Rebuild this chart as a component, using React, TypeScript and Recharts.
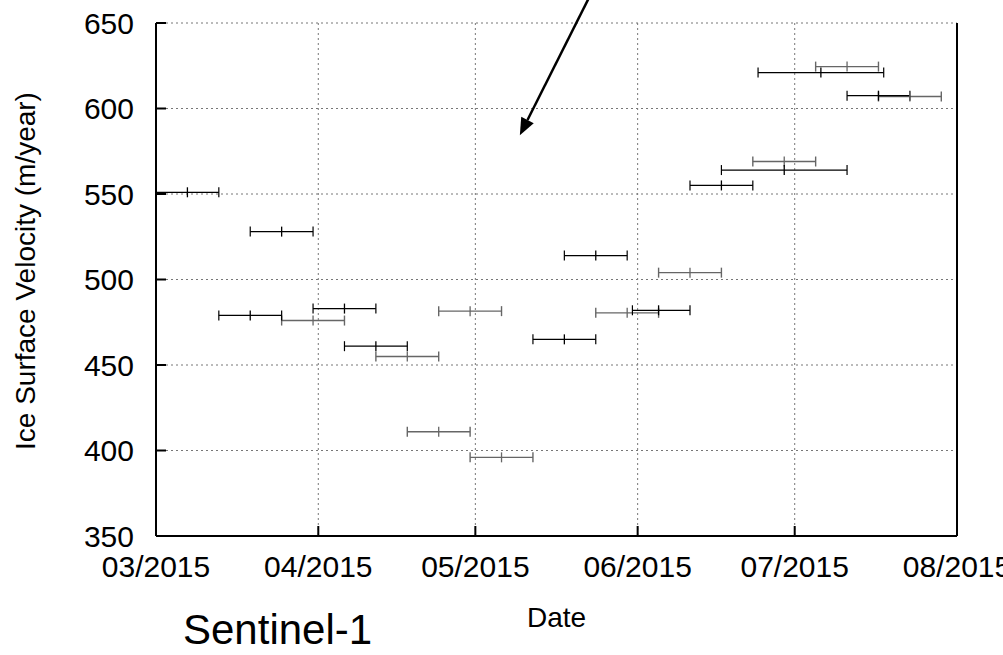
import { ScatterChart, Scatter, XAxis, YAxis, CartesianGrid, ErrorBar, ReferenceLine } from "recharts";

// days counted from 2015-03-01
const xTicks = [0, 31, 61, 92, 122, 153];
const xTickLabels = ["03/2015", "04/2015", "05/2015", "06/2015", "07/2015", "08/2015"];
const yTicks = [350, 400, 450, 500, 550, 600, 650];

// black pairs
const blackStart = [0, 12, 18, 30, 36, 72, 78, 91, 102, 108, 115, 132];
const blackCenter = [6, 18, 24, 36, 42, 78, 84, 96, 108, 120, 127, 138];
const blackEnd = [12, 24, 30, 42, 48, 84, 90, 102, 114, 132, 139, 144];
const blackVelocity = [551, 479, 528, 483, 461, 465, 514, 482, 555, 564, 621, 607.5];

// grey pairs
const greyStart = [24, 42, 48, 54, 60, 84, 96, 114, 126, 138];
const greyCenter = [30, 48, 54, 60, 66, 90, 102, 120, 132, 144];
const greyEnd = [36, 54, 60, 66, 72, 96, 108, 126, 138, 150];
const greyVelocity = [476, 455, 411, 481.5, 396, 480.5, 504, 569, 624.5, 607];

// arrow annotation (day, velocity)
const arrowFrom = { x: 83.4, y: 669 };
const arrowTo = { x: 69.5, y: 584.4 };

const build = (start: number[], center: number[], end: number[], vel: number[]) =>
  center.map((c, i) => ({ x: c, y: vel[i], err: [c - start[i], end[i] - c] }));

const blackData = build(blackStart, blackCenter, blackEnd, blackVelocity);
const greyData = build(greyStart, greyCenter, greyEnd, greyVelocity);

const font = "'Liberation Sans', Arial, Helvetica, sans-serif";
const tickFont = 30;

const BottomTick = (props: any) => {
  const { x, y, payload } = props;
  const i = xTicks.indexOf(payload.value);
  return (
    <g>
      <line x1={x} y1={y} x2={x} y2={y - 10} stroke="#000" strokeWidth={2} />
      <text x={x} y={y + 41} textAnchor="middle" fontSize={tickFont} fontFamily={font} fill="#000">
        {xTickLabels[i]}
      </text>
    </g>
  );
};

const TopTick = (props: any) => {
  const { x, y } = props;
  return <line x1={x} y1={y} x2={x} y2={y + 10} stroke="#000" strokeWidth={2} />;
};

const LeftTick = (props: any) => {
  const { x, y, payload } = props;
  return (
    <g>
      <line x1={x} y1={y} x2={x + 10} y2={y} stroke="#000" strokeWidth={2} />
      <text x={x - 22} y={y} dy="0.36em" textAnchor="end" fontSize={tickFont} fontFamily={font} fill="#000">
        {payload.value}
      </text>
    </g>
  );
};

const RightTick = (props: any) => {
  const { x, y } = props;
  return <line x1={x} y1={y} x2={x - 10} y2={y} stroke="#000" strokeWidth={2} />;
};

const centerMark = (color: string) => (props: any) => {
  const { cx, cy } = props;
  return <line x1={cx} y1={cy - 5} x2={cx} y2={cy + 5} stroke={color} strokeWidth={1.3} />;
};

const ArrowShape = (props: any) => {
  const { x1, y1, x2, y2 } = props;
  const ang = Math.atan2(y2 - y1, x2 - x1);
  const len = 17;
  const half = 7;
  const bx = x2 - len * Math.cos(ang);
  const by = y2 - len * Math.sin(ang);
  const px = -Math.sin(ang) * half;
  const py = Math.cos(ang) * half;
  return (
    <g>
      <line x1={x1} y1={y1} x2={bx} y2={by} stroke="#000" strokeWidth={2.5} />
      <polygon points={`${x2},${y2} ${bx + px},${by + py} ${bx - px},${by - py}`} fill="#000" />
    </g>
  );
};

const yLabel = (props: any) => {
  const { viewBox } = props;
  const cx = viewBox.x + 35;
  const cy = 271;
  return (
    <text transform={`translate(${cx}, ${cy}) rotate(-90)`} textAnchor="middle" fontSize={28} fontFamily={font} fill="#000">
      Ice Surface Velocity (m/year)
    </text>
  );
};

const xLabel = (props: any) => {
  const { viewBox } = props;
  return (
    <text x={viewBox.x + viewBox.width / 2} y={viewBox.y + 91} textAnchor="middle" fontSize={28} fontFamily={font} fill="#000">
      Date
    </text>
  );
};

export default function App() {
  return (
    <div style={{ position: "absolute", left: 0, top: 0, width: 1003, height: 655, background: "#fff", fontFamily: font }}>
      <ScatterChart width={1003} height={655} margin={{ top: 23, right: 0, bottom: 0, left: 0 }}>
        <CartesianGrid strokeDasharray="2 3" stroke="#777" strokeWidth={1} />
        <XAxis
          type="number"
          dataKey="x"
          domain={[0, 153]}
          ticks={xTicks}
          interval={0}
          height={119}
          axisLine={{ stroke: "#000", strokeWidth: 2 }}
          tickLine={false}
          tickSize={0}
          tickMargin={0}
          tick={BottomTick}
          label={{ content: xLabel }}
        />
        <XAxis
          xAxisId="top"
          orientation="top"
          type="number"
          domain={[0, 153]}
          ticks={xTicks}
          interval={0}
          height={0}
          axisLine={{ stroke: "#000", strokeWidth: 2 }}
          tickLine={false}
          tickSize={0}
          tickMargin={0}
          tick={TopTick}
        />
        <YAxis
          type="number"
          dataKey="y"
          domain={[350, 650]}
          ticks={yTicks}
          interval={0}
          width={156}
          axisLine={{ stroke: "#000", strokeWidth: 2 }}
          tickLine={false}
          tickSize={0}
          tickMargin={0}
          tick={LeftTick}
          label={{ content: yLabel }}
        />
        <YAxis
          yAxisId="right"
          orientation="right"
          type="number"
          domain={[350, 650]}
          ticks={yTicks}
          interval={0}
          width={46}
          axisLine={{ stroke: "#000", strokeWidth: 2 }}
          tickLine={false}
          tickSize={0}
          tickMargin={0}
          tick={RightTick}
        />
        <Scatter data={greyData} shape={centerMark("#666")} isAnimationActive={false}>
          <ErrorBar dataKey="err" direction="x" width={5} stroke="#666" strokeWidth={1.4} isAnimationActive={false} />
        </Scatter>
        <Scatter data={blackData} shape={centerMark("#000")} isAnimationActive={false}>
          <ErrorBar dataKey="err" direction="x" width={5} stroke="#000" strokeWidth={1.2} isAnimationActive={false} />
        </Scatter>
        <ReferenceLine segment={[arrowFrom, arrowTo]} ifOverflow="visible" shape={ArrowShape} />
      </ScatterChart>
      <div style={{ position: "absolute", left: 183, top: 609, fontSize: 42, lineHeight: "42px", color: "#000", whiteSpace: "nowrap" }}>
        Sentinel-1
      </div>
    </div>
  );
}
